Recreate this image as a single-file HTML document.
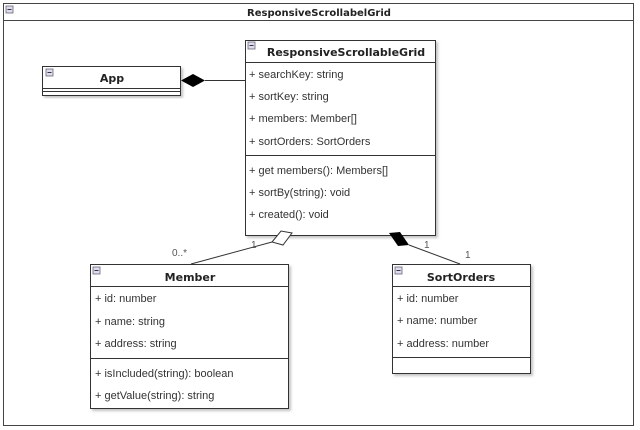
<!DOCTYPE html>
<html><head><meta charset="utf-8"><style>
html,body{margin:0;padding:0;background:#fff;width:640px;height:430px;overflow:hidden}
svg{display:block}
.t{font-family:"Liberation Sans",sans-serif;font-size:11px;fill:#333}
.h{font-family:"DejaVu Sans",sans-serif;font-size:11px;font-weight:bold;fill:#222}
</style></head><body>
<svg width="640" height="430" viewBox="0 0 640 430">
<defs>
<filter id="s" x="-5%" y="-5%" width="115%" height="115%"><feDropShadow dx="2" dy="2" stdDeviation="1.2" flood-color="#888" flood-opacity="0.5"/></filter>
<g id="ico"><rect x="0" y="0" width="7" height="7" fill="#dde" stroke="#667" stroke-width="0.8"/><line x1="1.5" y1="3.5" x2="5.5" y2="3.5" stroke="#334" stroke-width="1"/></g>
</defs>
<rect x="3.5" y="3.5" width="630" height="422" fill="#fff" stroke="#444"/>
<line x1="3.5" y1="20.5" x2="633.5" y2="20.5" stroke="#444"/>
<use href="#ico" x="6" y="6"/>
<text x="319" y="16" text-anchor="middle" style="font-family:'DejaVu Sans',sans-serif;font-size:10px;font-weight:600;fill:#222">ResponsiveScrollabelGrid</text>

<g filter="url(#s)"><rect x="42.5" y="66.5" width="138" height="29" fill="#fff" stroke="#333"/></g>
<line x1="42.5" y1="88.5" x2="180.5" y2="88.5" stroke="#333"/>
<line x1="42.5" y1="91.5" x2="180.5" y2="91.5" stroke="#333"/>
<use href="#ico" x="46" y="69"/>
<text x="112" y="82" text-anchor="middle" class="h">App</text>

<line x1="205" y1="80.5" x2="245" y2="80.5" stroke="#333"/>
<polygon points="181,80.5 193,74 205,80.5 193,87" fill="#000"/>

<g filter="url(#s)"><rect x="245.5" y="40.5" width="190" height="195" fill="#fff" stroke="#333"/></g>
<line x1="245.5" y1="62.5" x2="435.5" y2="62.5" stroke="#333"/>
<line x1="245.5" y1="155.5" x2="435.5" y2="155.5" stroke="#333"/>
<use href="#ico" x="248" y="42"/>
<text x="346" y="56" text-anchor="middle" class="h">ResponsiveScrollableGrid</text>
<text x="249" y="78" class="t">+ searchKey: string</text>
<text x="249" y="100" class="t">+ sortKey: string</text>
<text x="249" y="122" class="t">+ members: Member[]</text>
<text x="249" y="145" class="t">+ sortOrders: SortOrders</text>
<text x="249" y="174" class="t">+ get members(): Members[]</text>
<text x="249" y="196" class="t">+ sortBy(string): void</text>
<text x="249" y="218" class="t">+ created(): void</text>

<line x1="191" y1="264" x2="272" y2="242" stroke="#333"/>
<polygon points="292,233 283,245 272,242 281,231" fill="#fff" stroke="#333"/>
<text x="172" y="256" class="t" style="font-size:10px;fill:#555">0..*</text>
<text x="251" y="248" class="t" style="font-size:10px;fill:#555">1</text>

<line x1="409" y1="245" x2="460" y2="264" stroke="#333"/>
<polygon points="389,233 400,232 409,245 398,246" fill="#000"/>
<text x="424" y="248" class="t" style="font-size:10px;fill:#555">1</text>
<text x="465" y="258" class="t" style="font-size:10px;fill:#555">1</text>

<g filter="url(#s)"><rect x="90.5" y="264.5" width="198" height="144" fill="#fff" stroke="#333"/></g>
<line x1="90.5" y1="286.5" x2="288.5" y2="286.5" stroke="#333"/>
<line x1="90.5" y1="358.5" x2="288.5" y2="358.5" stroke="#333"/>
<use href="#ico" x="93" y="267"/>
<text x="190" y="281" text-anchor="middle" class="h">Member</text>
<text x="95" y="302" class="t">+ id: number</text>
<text x="95" y="325" class="t">+ name: string</text>
<text x="95" y="347" class="t">+ address: string</text>
<text x="95" y="377" class="t">+ isIncluded(string): boolean</text>
<text x="95" y="399" class="t">+ getValue(string): string</text>

<g filter="url(#s)"><rect x="392.5" y="264.5" width="138" height="109" fill="#fff" stroke="#333"/></g>
<line x1="392.5" y1="286.5" x2="530.5" y2="286.5" stroke="#333"/>
<line x1="392.5" y1="357.5" x2="530.5" y2="357.5" stroke="#333"/>
<use href="#ico" x="395" y="267"/>
<text x="461" y="281" text-anchor="middle" class="h">SortOrders</text>
<text x="397" y="302" class="t">+ id: number</text>
<text x="397" y="324" class="t">+ name: number</text>
<text x="397" y="347" class="t">+ address: number</text>
</svg>
</body></html>
